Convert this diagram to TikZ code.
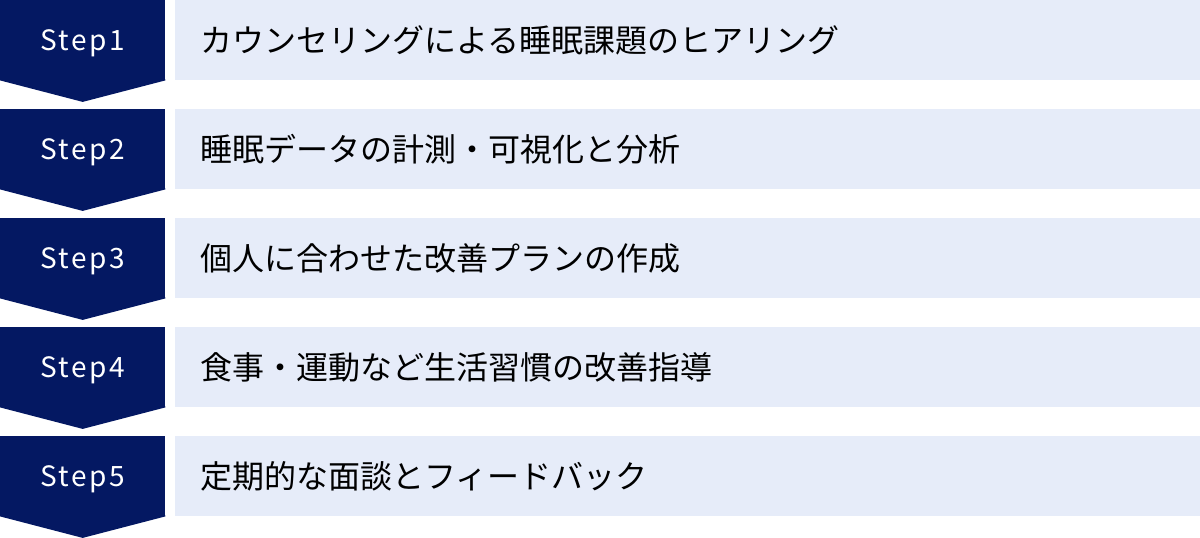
\documentclass[tikz,border=0pt]{standalone}
\usepackage{fontspec}
\setmainfont{Noto Sans CJK JP}
\newfontfamily\stepfont[LetterSpace=9]{Noto Sans CJK JP}
\usetikzlibrary{positioning}
\definecolor{stepnavy}{HTML}{041862}
\definecolor{rowblue}{HTML}{E6ECF9}

\begin{document}
\begin{tikzpicture}[x=1pt,y=1pt]
        \tikzstyle{stepbox} = [rectangle, fill=stepnavy, text=white, minimum width=165pt, minimum height=80pt, inner sep=0pt, text depth=0pt, font=\stepfont\fontsize{28}{30}\selectfont]
        \tikzstyle{rowbox} = [rectangle, fill=rowblue, text width=974pt, inner xsep=26pt, inner ysep=0pt, minimum height=80pt, align=left, font=\fontsize{32}{36}\selectfont]
        \tikzstyle{tip} = [fill=stepnavy]
        \useasboundingbox (0,0) rectangle (1200,-538);
        % step labels
        \node (s1) [stepbox, anchor=north west] at (0,0) {Step1};
        \node (s2) [stepbox, anchor=north west] at (0,-109) {Step2};
        \node (s3) [stepbox, anchor=north west] at (0,-218) {Step3};
        \node (s4) [stepbox, anchor=north west] at (0,-327) {Step4};
        \node (s5) [stepbox, anchor=north west] at (0,-436) {Step5};
        % chevron tips
        \fill[tip] ([yshift=1pt]s1.south west) -- (s1.south west) -- ([yshift=-21.5pt]s1.south) -- (s1.south east) -- ([yshift=1pt]s1.south east) -- cycle;
        \fill[tip] ([yshift=1pt]s2.south west) -- (s2.south west) -- ([yshift=-21.5pt]s2.south) -- (s2.south east) -- ([yshift=1pt]s2.south east) -- cycle;
        \fill[tip] ([yshift=1pt]s3.south west) -- (s3.south west) -- ([yshift=-21.5pt]s3.south) -- (s3.south east) -- ([yshift=1pt]s3.south east) -- cycle;
        \fill[tip] ([yshift=1pt]s4.south west) -- (s4.south west) -- ([yshift=-21.5pt]s4.south) -- (s4.south east) -- ([yshift=1pt]s4.south east) -- cycle;
        \fill[tip] ([yshift=1pt]s5.south west) -- (s5.south west) -- ([yshift=-21.5pt]s5.south) -- (s5.south east) -- ([yshift=1pt]s5.south east) -- cycle;
        % row texts
        \node (r1) [rowbox, right=9pt of s1] {カウンセリングによる睡眠課題のヒアリング};
        \node (r2) [rowbox, right=9pt of s2] {睡眠データの計測・可視化と分析};
        \node (r3) [rowbox, right=9pt of s3] {個人に合わせた改善プランの作成};
        \node (r4) [rowbox, right=9pt of s4] {食事・運動など生活習慣の改善指導};
        \node (r5) [rowbox, right=9pt of s5] {定期的な面談とフィードバック};
    \end{tikzpicture}
\end{document}
